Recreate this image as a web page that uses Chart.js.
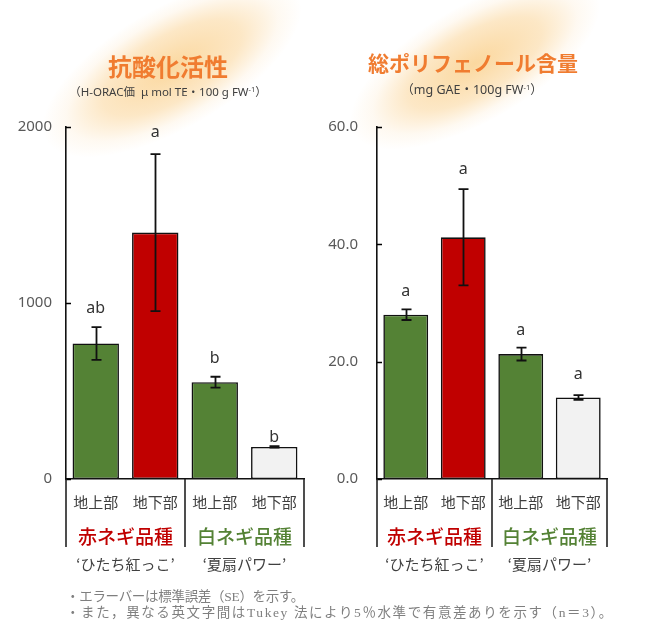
<!DOCTYPE html>
<html><head><meta charset="utf-8">
<script src="https://cdn.jsdelivr.net/npm/chart.js@4"></script>
<style>
html,body{margin:0;padding:0;background:#fff;}
#wrap{position:relative;width:650px;height:640px;overflow:hidden;background:#fff;}
.glow{position:absolute;border-radius:50%;background:radial-gradient(ellipse at center, rgba(250,206,135,0.8) 0%, rgba(251,216,160,0.6) 38%, rgba(253,232,200,0.25) 58%, rgba(255,255,255,0) 71%);}
.title{position:absolute;transform:translate(-50%,-50%);white-space:nowrap;font-family:'Noto Sans CJK JP',sans-serif;font-weight:700;color:#F07C30;z-index:3;}
.sub{position:absolute;transform:translate(-50%,-50%);white-space:nowrap;font-family:'Noto Sans','Noto Sans CJK JP',sans-serif;font-size:11.5px;color:#404040;z-index:3;}
.sub sup{font-size:7.5px;vertical-align:4px;}
canvas{position:absolute;top:0;z-index:2;}
.note{position:absolute;left:66px;white-space:nowrap;font-family:'Liberation Serif','Noto Sans CJK JP',serif;font-size:13.5px;color:#7f7f7f;z-index:3;}
</style>
</head><body>
<div id="wrap">
  <div class="glow" style="left:27px;top:8px;width:290px;height:120px;transform:rotate(-30deg);"></div>
  <div class="glow" style="left:335px;top:6px;width:280px;height:115px;transform:rotate(-30deg);"></div>
  <div class="title" style="left:168px;top:65px;font-size:24px;">抗酸化活性</div>
  <div class="sub" style="left:168px;top:91px;">（H-ORAC価&nbsp; μ mol TE・100 g FW<sup>-1</sup>）</div>
  <div class="title" style="left:473px;top:62px;font-size:21px;">総ポリフェノール含量</div>
  <div class="sub" style="left:472px;top:88px;font-size:12.5px;">（mg GAE・100g FW<sup>-1</sup>）</div>
  <canvas id="c1" width="325" height="640" style="left:0;"></canvas>
  <canvas id="c2" width="325" height="640" style="left:325px;"></canvas>
  <div class="note" style="top:585px;letter-spacing:-0.3px;">・エラーバーは標準誤差（SE）を示す。</div>
  <div class="note" style="top:601px;letter-spacing:1.6px;">・また，異なる英文字間はTukey 法により5％水準で有意差ありを示す（n＝3）。</div>
</div>
<script>
// ---- data ----
const categories = ['地上部', '地下部', '地上部', '地下部'];
const groups = ['赤ネギ品種', '白ネギ品種'];
const varieties = ['‘ひたち紅っこ’', '‘夏扇パワー’'];

const oracValues = [770, 1400, 550, 182];
const oracErrors = [93, 446, 31, 4];
const oracLetters = ['ab', 'a', 'b', 'b'];
const oracMax = 2000;
const oracStep = 1000;

const polyValues = [28.0, 41.2, 21.3, 13.9];
const polyErrors = [0.9, 8.2, 1.1, 0.4];
const polyLetters = ['a', 'a', 'a', 'a'];
const polyMax = 60;
const polyStep = 20;

// ---- styles ----
const barColors = ['#548235', '#C00000', '#548235', '#F2F2F2'];
const groupColors = ['#C00000', '#548235'];

const overlay = {
  id: 'overlay',
  afterDatasetsDraw(chart, args, o) {
    const {ctx, chartArea: a, scales: {x, y}} = chart;
    const data = chart.data.datasets[0].data;
    ctx.save();
    // inward y ticks
    ctx.strokeStyle = '#000'; ctx.lineWidth = 1.5;
    y.ticks.forEach((t, i) => {
      const py = Math.round(y.getPixelForTick(i)) + 0.5;
      ctx.beginPath(); ctx.moveTo(a.left, py); ctx.lineTo(a.left + 5, py); ctx.stroke();
    });
    // error bars
    ctx.lineWidth = 1.8; ctx.strokeStyle = '#111';
    o.errors.forEach((e, i) => {
      const px = Math.round(x.getPixelForValue(i)) + 0.5;
      const t = y.getPixelForValue(data[i] + e), b = y.getPixelForValue(data[i] - e);
      ctx.beginPath();
      ctx.moveTo(px, t); ctx.lineTo(px, b);
      ctx.moveTo(px - 5, t); ctx.lineTo(px + 5, t);
      ctx.moveTo(px - 5, b); ctx.lineTo(px + 5, b);
      ctx.stroke();
    });
    // significance letters
    ctx.font = '16px "Noto Sans", sans-serif';
    ctx.fillStyle = '#333'; ctx.textAlign = 'center'; ctx.textBaseline = 'middle';
    o.letters.forEach((L, i) => {
      const t = y.getPixelForValue(data[i] + o.errors[i]);
      ctx.fillText(L, x.getPixelForValue(i), t - o.gaps[i]);
    });
    // category box lines
    const div = (x.getPixelForValue(1) + x.getPixelForValue(2)) / 2;
    ctx.strokeStyle = '#222'; ctx.lineWidth = 1.6;
    [a.left, div, a.right].forEach(px => {
      ctx.beginPath(); ctx.moveTo(px, a.bottom); ctx.lineTo(px, a.bottom + 68); ctx.stroke();
    });
    // group and variety labels
    groups.forEach((g, gi) => {
      const cx = (x.getPixelForValue(gi * 2) + x.getPixelForValue(gi * 2 + 1)) / 2;
      ctx.font = '500 19px "Noto Sans CJK JP", sans-serif';
      ctx.fillStyle = groupColors[gi];
      ctx.fillText(g, cx, a.bottom + 58);
      ctx.font = '15px "Noto Sans CJK JP", sans-serif';
      ctx.fillStyle = '#404040';
      ctx.fillText(varieties[gi], cx, a.bottom + 85);
    });
    ctx.restore();
  }
};

function makeChart(id, values, errors, letters, gaps, max, step, fmt, axisW, rightPad, tickPad) {
  return new Chart(document.getElementById(id), {
    type: 'bar',
    data: {
      labels: categories,
      datasets: [{
        data: values,
        backgroundColor: barColors,
        borderColor: '#111',
        borderWidth: 1.6,
        borderSkipped: false,
        barPercentage: 0.78,
        categoryPercentage: 1.0
      }]
    },
    options: {
      responsive: false,
      animation: false,
      devicePixelRatio: 1,
      layout: {padding: {top: 127, right: rightPad, bottom: 71, left: 0}},
      plugins: {
        legend: {display: false},
        tooltip: {enabled: false},
        overlay: {errors, letters, gaps}
      },
      scales: {
        x: {
          grid: {display: false, drawTicks: false},
          border: {display: true, color: '#111', width: 1.6},
          ticks: {font: {family: '"Noto Sans CJK JP"', size: 15}, color: '#404040', padding: 14, maxRotation: 0, autoSkip: false},
          afterFit: s => { s.height = 90; }
        },
        y: {
          min: 0, max: max,
          grid: {display: false, drawTicks: false},
          border: {display: true, color: '#111', width: 1.6},
          ticks: {stepSize: step, font: {family: '"Noto Sans"', size: 15}, color: '#595959', padding: tickPad, callback: fmt},
          afterFit: s => { s.width = axisW; }
        }
      }
    },
    plugins: [overlay]
  });
}

makeChart('c1', oracValues, oracErrors, oracLetters, [19, 22, 18, 9], oracMax, oracStep, v => String(v), 66, 21, 14);
makeChart('c2', polyValues, polyErrors, polyLetters, [18, 20, 17, 21], polyMax, polyStep, v => v.toFixed(1), 52, 43, 19);
</script>
</body></html>
